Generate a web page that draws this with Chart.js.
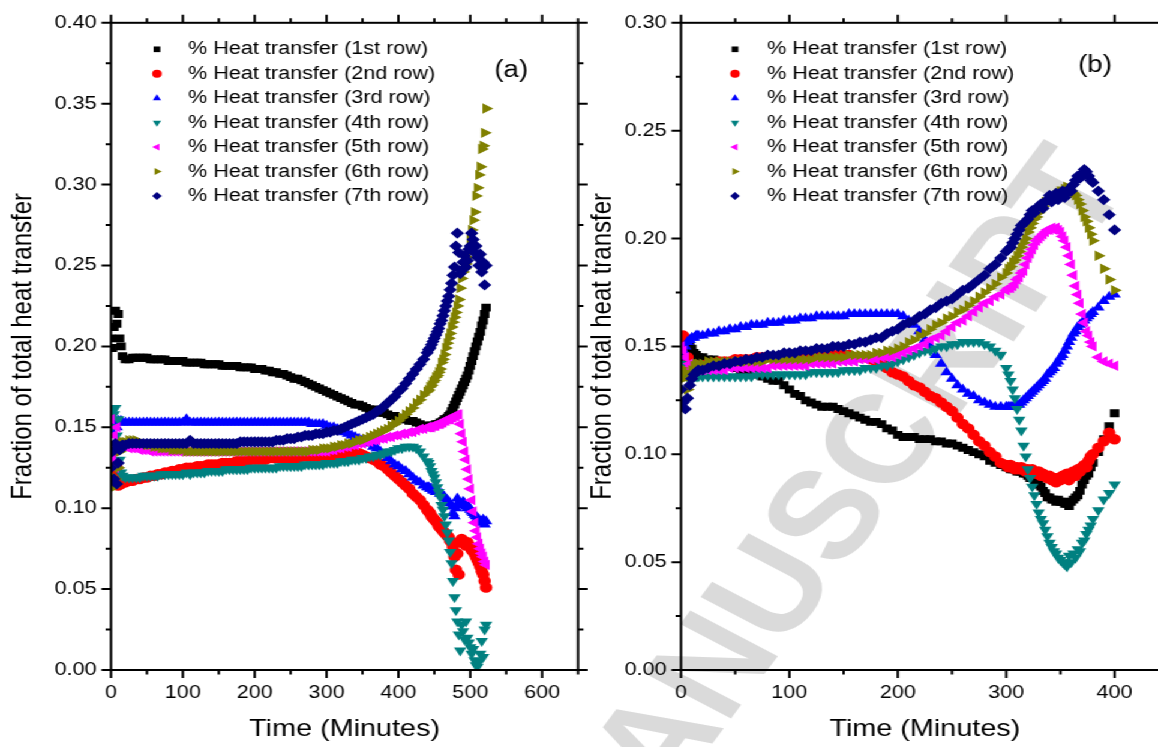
<!DOCTYPE html>
<html>
<head>
<meta charset="utf-8">
<script src="https://cdn.jsdelivr.net/npm/chart.js@4.4.1/dist/chart.umd.min.js"></script>
<style>
html, body { margin: 0; padding: 0; background: #fff; overflow: hidden; }
#page { position: absolute; left: 0; top: 0; width: 965px; height: 747px; transform: scaleX(1.2); transform-origin: 0 0; overflow: hidden; }
#page canvas { position: absolute; top: 0; }
#mark { left: 0; }
#chartA { left: 0; }
#chartB { left: 480px; }
</style>
</head>
<body>
<div id="page">
<canvas id="mark" width="965" height="747"></canvas>
<canvas id="chartA" width="490" height="747"></canvas>
<canvas id="chartB" width="500" height="747"></canvas>
</div>
<script>
// time axis (minutes); finer sampling where the curves move fast
const tA = [0, 2, 4, 6, 8, 10, 12, 14, 16,
  20, 25, 30, 35, 40, 45, 50, 55, 60, 65,
  70, 75, 80, 85, 90, 95, 100, 105, 110, 115,
  120, 125, 130, 135, 140, 145, 150, 155, 160, 165,
  170, 175, 180, 185, 190, 195, 200, 205, 210, 215,
  220, 225, 230, 235, 240, 245, 250, 255, 260, 265,
  270, 275, 280, 285, 290, 295, 300, 305, 310, 315,
  320, 325, 330, 335, 340, 345, 350, 355, 360, 365,
  370, 375, 380, 385, 390, 395, 400, 405, 410, 415,
  420, 425, 430, 435,
  440, 442, 444, 446, 448, 450, 452, 454, 456, 458,
  460, 462, 464, 466, 468, 470, 472, 474, 476, 478,
  480, 482, 484, 486, 488, 490, 492, 494, 496, 498,
  500, 502, 504, 506, 508, 510, 512, 514, 516, 518,
  520, 522];
const tB = [0, 2, 4, 6, 8, 10, 12, 14, 16,
  20, 25, 30, 35, 40, 45, 50, 55, 60, 65,
  70, 75, 80, 85, 90, 95, 100, 105, 110, 115,
  120, 125, 130, 135, 140, 145, 150, 155, 160, 165,
  170, 175, 180, 185, 190, 195, 200, 205, 210, 215,
  220, 225, 230, 235, 240, 245, 250, 255, 260, 265,
  270, 275, 280, 285, 290, 295,
  300, 302, 304, 306, 308, 310, 312, 314, 316, 318,
  320, 322, 324, 326, 328, 330, 332, 334, 336, 338,
  340, 342, 344, 346, 348, 350, 352, 354, 356, 358,
  360, 362, 364, 366, 368, 370, 372, 374, 376, 378,
  380, 385, 390, 395, 400];

const labels = ['% Heat transfer (1st row)', '% Heat transfer (2nd row)', '% Heat transfer (3rd row)',
  '% Heat transfer (4th row)', '% Heat transfer (5th row)', '% Heat transfer (6th row)', '% Heat transfer (7th row)'];

// panel (a)
const a1 = [0.205, 0.199, 0.212, 0.222, 0.214, 0.220, 0.205, 0.200, 0.194,
  0.192, 0.192, 0.193, 0.193, 0.193, 0.193, 0.193, 0.192, 0.192, 0.192,
  0.192, 0.192, 0.191, 0.191, 0.191, 0.191, 0.191, 0.190, 0.190, 0.190,
  0.190, 0.190, 0.189, 0.189, 0.189, 0.189, 0.189, 0.188, 0.188, 0.188,
  0.188, 0.188, 0.187, 0.187, 0.187, 0.187, 0.186, 0.186, 0.186, 0.185,
  0.185, 0.184, 0.184, 0.183, 0.183, 0.182, 0.181, 0.180, 0.180, 0.179,
  0.178, 0.177, 0.176, 0.175, 0.174, 0.173, 0.172, 0.171, 0.170, 0.169,
  0.168, 0.167, 0.166, 0.165, 0.164, 0.164, 0.163, 0.162, 0.161, 0.161,
  0.160, 0.159, 0.159, 0.158, 0.157, 0.157, 0.156, 0.155, 0.155, 0.154,
  0.154, 0.153, 0.152, 0.151,
  0.151, 0.151, 0.150, 0.151, 0.151, 0.151, 0.152, 0.152, 0.152, 0.153,
  0.153, 0.154, 0.155, 0.155, 0.156, 0.157, 0.158, 0.160, 0.162, 0.164,
  0.166, 0.168, 0.170, 0.172, 0.174, 0.176, 0.178, 0.180, 0.182, 0.185,
  0.188, 0.191, 0.194, 0.197, 0.200, 0.203, 0.206, 0.209, 0.213, 0.216,
  0.220, 0.224];
const a2 = [0.130, 0.122, 0.135, 0.118, 0.125, 0.114, 0.117, 0.115, 0.117,
  0.116, 0.117, 0.117, 0.118, 0.118, 0.119, 0.119, 0.120, 0.120, 0.121,
  0.121, 0.122, 0.122, 0.123, 0.123, 0.124, 0.124, 0.125, 0.125, 0.125,
  0.126, 0.126, 0.126, 0.127, 0.127, 0.127, 0.127, 0.128, 0.128, 0.128,
  0.128, 0.129, 0.129, 0.129, 0.129, 0.130, 0.130, 0.130, 0.130, 0.130,
  0.131, 0.131, 0.131, 0.131, 0.131, 0.131, 0.131, 0.131, 0.131, 0.132,
  0.132, 0.132, 0.132, 0.132, 0.132, 0.132, 0.132, 0.132, 0.133, 0.133,
  0.133, 0.133, 0.133, 0.134, 0.134, 0.134, 0.133, 0.132, 0.131, 0.130,
  0.129, 0.127, 0.126, 0.124, 0.122, 0.120, 0.118, 0.116, 0.114, 0.112,
  0.109, 0.107, 0.105, 0.102,
  0.099, 0.098, 0.097, 0.095, 0.094, 0.093, 0.092, 0.091, 0.089, 0.088,
  0.087, 0.086, 0.085, 0.084, 0.083, 0.082, 0.080, 0.079, 0.076, 0.070,
  0.062, 0.072, 0.059, 0.079, 0.081, 0.080, 0.078, 0.077, 0.079, 0.077,
  0.076, 0.074, 0.075, 0.072, 0.070, 0.068, 0.066, 0.064, 0.061, 0.059,
  0.055, 0.051];
const a3 = [0.148, 0.135, 0.152, 0.140, 0.150, 0.154, 0.153, 0.154, 0.153,
  0.153, 0.153, 0.153, 0.153, 0.153, 0.153, 0.153, 0.153, 0.153, 0.153,
  0.153, 0.153, 0.153, 0.153, 0.153, 0.153, 0.153, 0.155, 0.153, 0.153,
  0.153, 0.153, 0.153, 0.153, 0.153, 0.153, 0.153, 0.153, 0.153, 0.153,
  0.153, 0.153, 0.153, 0.153, 0.153, 0.153, 0.153, 0.153, 0.153, 0.153,
  0.153, 0.153, 0.153, 0.153, 0.153, 0.153, 0.153, 0.153, 0.153, 0.153,
  0.153, 0.153, 0.152, 0.152, 0.152, 0.152, 0.151, 0.150, 0.150, 0.149,
  0.148, 0.147, 0.146, 0.145, 0.144, 0.143, 0.142, 0.141, 0.140, 0.138,
  0.137, 0.135, 0.133, 0.131, 0.129, 0.127, 0.126, 0.124, 0.123, 0.121,
  0.119, 0.117, 0.116, 0.114,
  0.113, 0.113, 0.112, 0.112, 0.111, 0.111, 0.110, 0.110, 0.110, 0.109,
  0.109, 0.108, 0.107, 0.106, 0.105, 0.104, 0.103, 0.101, 0.097, 0.095,
  0.100, 0.106, 0.104, 0.103, 0.102, 0.104, 0.103, 0.101, 0.100, 0.101,
  0.099, 0.098, 0.097, 0.096, 0.095, 0.094, 0.093, 0.092, 0.091, 0.093,
  0.090, 0.092];
const a4 = [0.150, 0.160, 0.158, 0.162, 0.145, 0.155, 0.130, 0.122, 0.120,
  0.119, 0.119, 0.119, 0.119, 0.119, 0.120, 0.120, 0.120, 0.120, 0.120,
  0.121, 0.121, 0.121, 0.121, 0.121, 0.121, 0.121, 0.122, 0.121, 0.122,
  0.122, 0.122, 0.122, 0.123, 0.123, 0.123, 0.123, 0.123, 0.124, 0.124,
  0.124, 0.124, 0.124, 0.124, 0.124, 0.125, 0.125, 0.125, 0.125, 0.125,
  0.125, 0.125, 0.125, 0.126, 0.126, 0.126, 0.126, 0.126, 0.126, 0.126,
  0.127, 0.127, 0.127, 0.127, 0.127, 0.127, 0.128, 0.128, 0.128, 0.128,
  0.129, 0.129, 0.129, 0.130, 0.130, 0.130, 0.131, 0.131, 0.132, 0.132,
  0.133, 0.133, 0.134, 0.135, 0.135, 0.136, 0.137, 0.137, 0.138, 0.138,
  0.138, 0.137, 0.135, 0.132,
  0.129, 0.128, 0.126, 0.123, 0.121, 0.119, 0.116, 0.113, 0.110, 0.107,
  0.102, 0.099, 0.095, 0.090, 0.085, 0.080, 0.073, 0.066, 0.055, 0.045,
  0.037, 0.030, 0.022, 0.012, 0.028, 0.024, 0.019, 0.030, 0.020, 0.017,
  0.014, 0.010, 0.013, 0.006, 0.003, 0.002, 0.005, 0.010, 0.018, 0.008,
  0.025, 0.028];
const a5 = [0.155, 0.130, 0.145, 0.125, 0.150, 0.138, 0.140, 0.139, 0.138,
  0.138, 0.137, 0.137, 0.137, 0.136, 0.136, 0.136, 0.135, 0.135, 0.135,
  0.135, 0.135, 0.135, 0.135, 0.135, 0.135, 0.135, 0.135, 0.135, 0.135,
  0.135, 0.135, 0.135, 0.135, 0.135, 0.135, 0.135, 0.135, 0.135, 0.135,
  0.135, 0.135, 0.135, 0.135, 0.135, 0.135, 0.135, 0.135, 0.135, 0.135,
  0.135, 0.135, 0.135, 0.135, 0.135, 0.135, 0.135, 0.135, 0.135, 0.135,
  0.135, 0.135, 0.135, 0.135, 0.135, 0.135, 0.135, 0.136, 0.136, 0.137,
  0.137, 0.138, 0.138, 0.139, 0.139, 0.140, 0.140, 0.141, 0.141, 0.142,
  0.142, 0.143, 0.143, 0.144, 0.144, 0.145, 0.145, 0.146, 0.146, 0.147,
  0.147, 0.148, 0.149, 0.149,
  0.150, 0.150, 0.150, 0.150, 0.151, 0.151, 0.151, 0.152, 0.152, 0.152,
  0.153, 0.153, 0.154, 0.154, 0.155, 0.155, 0.155, 0.156, 0.156, 0.157,
  0.157, 0.158, 0.158, 0.152, 0.146, 0.141, 0.135, 0.130, 0.124, 0.118,
  0.112, 0.105, 0.098, 0.091, 0.086, 0.082, 0.078, 0.075, 0.072, 0.070,
  0.067, 0.065];
const a6 = [0.120, 0.115, 0.113, 0.118, 0.115, 0.125, 0.135, 0.140, 0.141,
  0.141, 0.142, 0.142, 0.142, 0.141, 0.140, 0.139, 0.139, 0.138, 0.138,
  0.137, 0.137, 0.137, 0.136, 0.136, 0.136, 0.136, 0.135, 0.135, 0.135,
  0.135, 0.135, 0.135, 0.135, 0.135, 0.135, 0.135, 0.135, 0.135, 0.135,
  0.135, 0.135, 0.135, 0.135, 0.135, 0.135, 0.135, 0.135, 0.135, 0.135,
  0.135, 0.135, 0.135, 0.135, 0.135, 0.135, 0.135, 0.135, 0.135, 0.135,
  0.135, 0.135, 0.136, 0.136, 0.136, 0.137, 0.137, 0.137, 0.138, 0.138,
  0.139, 0.139, 0.140, 0.140, 0.141, 0.142, 0.142, 0.143, 0.144, 0.145,
  0.146, 0.147, 0.148, 0.149, 0.151, 0.152, 0.154, 0.156, 0.158, 0.160,
  0.162, 0.165, 0.167, 0.170,
  0.172, 0.173, 0.175, 0.176, 0.178, 0.179, 0.181, 0.182, 0.184, 0.186,
  0.190, 0.192, 0.195, 0.199, 0.202, 0.205, 0.208, 0.212, 0.215, 0.218,
  0.221, 0.225, 0.229, 0.236, 0.242, 0.246, 0.248, 0.251, 0.255, 0.258,
  0.266, 0.272, 0.278, 0.283, 0.293, 0.298, 0.306, 0.311, 0.322, 0.324,
  0.332, 0.347];
const a7 = [0.125, 0.135, 0.118, 0.140, 0.115, 0.128, 0.136, 0.138, 0.139,
  0.139, 0.140, 0.140, 0.140, 0.140, 0.140, 0.140, 0.140, 0.140, 0.140,
  0.140, 0.140, 0.140, 0.140, 0.140, 0.140, 0.140, 0.140, 0.142, 0.140,
  0.140, 0.140, 0.140, 0.140, 0.140, 0.140, 0.140, 0.140, 0.140, 0.140,
  0.140, 0.140, 0.141, 0.141, 0.141, 0.141, 0.141, 0.141, 0.141, 0.141,
  0.141, 0.141, 0.142, 0.142, 0.142, 0.143, 0.143, 0.143, 0.144, 0.144,
  0.145, 0.145, 0.145, 0.146, 0.146, 0.146, 0.147, 0.147, 0.148, 0.148,
  0.149, 0.150, 0.151, 0.152, 0.153, 0.154, 0.155, 0.156, 0.157, 0.158,
  0.160, 0.161, 0.163, 0.165, 0.167, 0.169, 0.172, 0.174, 0.177, 0.180,
  0.183, 0.186, 0.189, 0.192,
  0.196, 0.198, 0.199, 0.201, 0.203, 0.205, 0.207, 0.209, 0.211, 0.214,
  0.216, 0.219, 0.222, 0.225, 0.228, 0.231, 0.235, 0.239, 0.244, 0.249,
  0.262, 0.270, 0.258, 0.245, 0.247, 0.252, 0.256, 0.249, 0.253, 0.260,
  0.262, 0.270, 0.266, 0.258, 0.262, 0.255, 0.250, 0.257, 0.246, 0.252,
  0.238, 0.250];

// panel (b)
const b1 = [0.145, 0.150, 0.148, 0.152, 0.150, 0.149, 0.147, 0.146, 0.145,
  0.145, 0.144, 0.144, 0.143, 0.142, 0.141, 0.140, 0.139, 0.139, 0.138,
  0.137, 0.136, 0.135, 0.134, 0.134, 0.132, 0.130, 0.128, 0.127, 0.125,
  0.124, 0.123, 0.122, 0.122, 0.122, 0.121, 0.120, 0.119, 0.118, 0.117,
  0.116, 0.115, 0.115, 0.114, 0.112, 0.111, 0.109, 0.108, 0.108, 0.108,
  0.107, 0.107, 0.107, 0.106, 0.106, 0.105, 0.105, 0.104, 0.103, 0.102,
  0.101, 0.100, 0.099, 0.097, 0.096, 0.095,
  0.094, 0.094, 0.093, 0.093, 0.093, 0.092, 0.092, 0.092, 0.091, 0.091,
  0.090, 0.089, 0.089, 0.088, 0.087, 0.086, 0.085, 0.083, 0.082, 0.080,
  0.080, 0.079, 0.079, 0.078, 0.079, 0.078, 0.078, 0.077, 0.077, 0.076,
  0.078, 0.079, 0.080, 0.081, 0.083, 0.086, 0.088, 0.090, 0.091, 0.094,
  0.096, 0.101, 0.107, 0.113, 0.119];
const b2 = [0.150, 0.155, 0.153, 0.145, 0.142, 0.141, 0.140, 0.140, 0.141,
  0.141, 0.142, 0.142, 0.143, 0.143, 0.143, 0.144, 0.144, 0.144, 0.144,
  0.145, 0.145, 0.145, 0.145, 0.145, 0.145, 0.146, 0.146, 0.146, 0.146,
  0.146, 0.146, 0.146, 0.146, 0.146, 0.146, 0.146, 0.146, 0.145, 0.145,
  0.145, 0.144, 0.143, 0.142, 0.140, 0.138, 0.137, 0.136, 0.134, 0.132,
  0.131, 0.129, 0.127, 0.126, 0.124, 0.122, 0.120, 0.117, 0.114, 0.112,
  0.109, 0.106, 0.104, 0.101, 0.099, 0.096,
  0.095, 0.094, 0.095, 0.094, 0.093, 0.094, 0.093, 0.094, 0.093, 0.092,
  0.093, 0.092, 0.093, 0.092, 0.091, 0.092, 0.090, 0.091, 0.090, 0.089,
  0.090, 0.088, 0.089, 0.087, 0.089, 0.088, 0.090, 0.089, 0.091, 0.088,
  0.090, 0.092, 0.090, 0.093, 0.092, 0.094, 0.095, 0.094, 0.097, 0.099,
  0.100, 0.103, 0.106, 0.110, 0.107];
const b3 = [0.145, 0.148, 0.150, 0.152, 0.153, 0.154, 0.154, 0.155, 0.155,
  0.155, 0.156, 0.156, 0.157, 0.157, 0.158, 0.158, 0.159, 0.159, 0.160,
  0.160, 0.160, 0.161, 0.161, 0.161, 0.162, 0.162, 0.162, 0.163, 0.163,
  0.163, 0.164, 0.164, 0.164, 0.164, 0.164, 0.164, 0.165, 0.165, 0.165,
  0.165, 0.165, 0.165, 0.165, 0.165, 0.165, 0.165, 0.164, 0.162, 0.160,
  0.157, 0.153, 0.150, 0.146, 0.142, 0.138, 0.135, 0.132, 0.130, 0.128,
  0.127, 0.125, 0.124, 0.123, 0.122, 0.122,
  0.122, 0.122, 0.122, 0.122, 0.122, 0.123, 0.123, 0.124, 0.125, 0.126,
  0.127, 0.128, 0.129, 0.130, 0.131, 0.132, 0.133, 0.134, 0.135, 0.137,
  0.138, 0.139, 0.140, 0.142, 0.143, 0.145, 0.146, 0.148, 0.150, 0.152,
  0.154, 0.156, 0.157, 0.159, 0.160, 0.161, 0.162, 0.163, 0.164, 0.165,
  0.166, 0.168, 0.171, 0.173, 0.174];
const b4 = [0.142, 0.138, 0.140, 0.136, 0.137, 0.136, 0.136, 0.136, 0.136,
  0.136, 0.136, 0.136, 0.136, 0.136, 0.136, 0.136, 0.136, 0.136, 0.136,
  0.137, 0.137, 0.137, 0.137, 0.137, 0.137, 0.137, 0.137, 0.137, 0.137,
  0.138, 0.138, 0.138, 0.138, 0.138, 0.138, 0.139, 0.139, 0.139, 0.139,
  0.140, 0.140, 0.140, 0.141, 0.141, 0.142, 0.143, 0.144, 0.145, 0.146,
  0.147, 0.148, 0.148, 0.149, 0.150, 0.150, 0.151, 0.151, 0.152, 0.152,
  0.152, 0.152, 0.151, 0.150, 0.148, 0.146,
  0.140, 0.137, 0.134, 0.130, 0.126, 0.121, 0.116, 0.111, 0.104, 0.099,
  0.093, 0.089, 0.085, 0.081, 0.077, 0.073, 0.070, 0.068, 0.065, 0.062,
  0.059, 0.057, 0.055, 0.054, 0.052, 0.051, 0.050, 0.049, 0.048, 0.053,
  0.050, 0.054, 0.052, 0.056, 0.055, 0.059, 0.060, 0.063, 0.065, 0.067,
  0.070, 0.074, 0.079, 0.082, 0.086];
const b5 = [0.150, 0.148, 0.145, 0.140, 0.142, 0.139, 0.139, 0.139, 0.139,
  0.139, 0.139, 0.139, 0.139, 0.139, 0.140, 0.140, 0.140, 0.140, 0.140,
  0.140, 0.140, 0.140, 0.141, 0.141, 0.141, 0.141, 0.141, 0.141, 0.141,
  0.142, 0.142, 0.142, 0.142, 0.142, 0.143, 0.143, 0.143, 0.143, 0.144,
  0.144, 0.144, 0.144, 0.145, 0.145, 0.145, 0.146, 0.147, 0.148, 0.149,
  0.150, 0.151, 0.153, 0.154, 0.155, 0.157, 0.159, 0.161, 0.162, 0.164,
  0.166, 0.168, 0.170, 0.171, 0.173, 0.174,
  0.176, 0.177, 0.177, 0.178, 0.179, 0.181, 0.182, 0.184, 0.185, 0.188,
  0.191, 0.193, 0.195, 0.197, 0.199, 0.200, 0.201, 0.202, 0.203, 0.204,
  0.204, 0.205, 0.204, 0.205, 0.204, 0.203, 0.201, 0.199, 0.196, 0.192,
  0.188, 0.183, 0.178, 0.174, 0.170, 0.165, 0.161, 0.157, 0.155, 0.152,
  0.150, 0.145, 0.143, 0.142, 0.141];
const b6 = [0.140, 0.135, 0.138, 0.130, 0.136, 0.139, 0.141, 0.142, 0.142,
  0.142, 0.143, 0.143, 0.143, 0.143, 0.143, 0.143, 0.143, 0.143, 0.143,
  0.143, 0.143, 0.144, 0.144, 0.144, 0.144, 0.144, 0.144, 0.144, 0.144,
  0.144, 0.145, 0.145, 0.145, 0.145, 0.145, 0.145, 0.146, 0.146, 0.146,
  0.146, 0.146, 0.147, 0.147, 0.148, 0.148, 0.149, 0.150, 0.152, 0.153,
  0.155, 0.156, 0.158, 0.160, 0.161, 0.163, 0.164, 0.166, 0.167, 0.169,
  0.171, 0.173, 0.175, 0.177, 0.179, 0.182,
  0.184, 0.186, 0.187, 0.189, 0.190, 0.192, 0.194, 0.196, 0.198, 0.200,
  0.203, 0.205, 0.207, 0.209, 0.210, 0.212, 0.214, 0.215, 0.217, 0.217,
  0.218, 0.219, 0.219, 0.220, 0.221, 0.222, 0.222, 0.223, 0.224, 0.223,
  0.222, 0.221, 0.220, 0.218, 0.216, 0.213, 0.210, 0.208, 0.205, 0.202,
  0.199, 0.192, 0.186, 0.181, 0.176];
const b7 = [0.130, 0.124, 0.121, 0.126, 0.132, 0.135, 0.137, 0.138, 0.139,
  0.139, 0.140, 0.141, 0.141, 0.142, 0.142, 0.143, 0.143, 0.144, 0.144,
  0.145, 0.145, 0.146, 0.146, 0.146, 0.147, 0.147, 0.147, 0.148, 0.148,
  0.148, 0.149, 0.149, 0.149, 0.150, 0.150, 0.150, 0.151, 0.151, 0.152,
  0.152, 0.153, 0.154, 0.154, 0.156, 0.157, 0.158, 0.160, 0.161, 0.162,
  0.164, 0.165, 0.167, 0.168, 0.170, 0.171, 0.172, 0.174, 0.176, 0.177,
  0.179, 0.181, 0.183, 0.186, 0.188, 0.191,
  0.194, 0.195, 0.196, 0.198, 0.200, 0.202, 0.204, 0.206, 0.207, 0.208,
  0.209, 0.211, 0.213, 0.212, 0.214, 0.215, 0.216, 0.214, 0.217, 0.218,
  0.220, 0.217, 0.219, 0.221, 0.218, 0.220, 0.222, 0.219, 0.221, 0.223,
  0.222, 0.225, 0.227, 0.229, 0.228, 0.230, 0.232, 0.231, 0.229, 0.227,
  0.226, 0.222, 0.218, 0.211, 0.204];

const colors = ['#000000', '#ff0000', '#0000ff', '#008080', '#ff00ff', '#808000', '#000080'];
const styles = ['rect', 'circle', 'triangle', 'triangle', 'triangle', 'triangle', 'rectRot'];
const rotations = [0, 0, 0, 180, 270, 90, 0];

const FONT = '"Liberation Sans", Arial, Helvetica, sans-serif';
Chart.defaults.font.family = FONT;
Chart.defaults.color = '#000';

// frame, mirrored axes, major/minor ticks and the time labels
const framePlugin = {
  id: 'frame',
  afterDatasetsDraw(chart) {
    const { ctx, chartArea: a, scales: { x, y } } = chart;
    ctx.save();
    ctx.strokeStyle = '#000';
    ctx.lineWidth = 2;
    ctx.beginPath();
    for (let v = 0; v <= x.max; v += 50) {
      const px = x.getPixelForValue(v);
      const len = v % 100 === 0 ? 8 : 4.5;
      ctx.moveTo(px, a.bottom); ctx.lineTo(px, a.bottom + len);
      ctx.moveTo(px, a.top); ctx.lineTo(px, a.top - len);
    }
    const nY = Math.round(y.max / 0.025);
    for (let k = 0; k <= nY; k++) {
      const py = y.getPixelForValue(k * 0.025);
      const len = k % 2 === 0 ? 8 : 4.5;
      ctx.moveTo(a.left, py); ctx.lineTo(a.left - len, py);
      ctx.moveTo(a.right, py); ctx.lineTo(a.right + len, py);
    }
    ctx.stroke();
    ctx.strokeRect(a.left, a.top, a.right - a.left, a.bottom - a.top);

    ctx.fillStyle = '#000';
    ctx.font = '18px ' + FONT;
    ctx.textAlign = 'center';
    ctx.textBaseline = 'middle';
    for (let v = 0; v <= x.max; v += 100) {
      ctx.fillText(String(v), x.getPixelForValue(v), a.bottom + 23);
    }
    ctx.restore();
  }
};

// legend inside the plot + panel tag
const keyPlugin = {
  id: 'key',
  afterDraw(chart, args, o) {
    const { ctx, chartArea: a } = chart;
    ctx.save();
    ctx.font = '18px ' + FONT;
    ctx.textBaseline = 'middle';
    chart.data.datasets.forEach((ds, i) => {
      const y = o.rowTop + i * o.rowGap;
      ctx.fillStyle = ds.backgroundColor;
      Chart.helpers.drawPoint(ctx, { pointStyle: ds.pointStyle, rotation: ds.pointRotation, radius: 4, borderWidth: 0 }, a.left + o.markX, y);
      ctx.fillStyle = '#000';
      ctx.fillText(ds.label, a.left + o.textX, y);
    });
    ctx.font = '23px ' + FONT;
    ctx.textAlign = 'center';
    ctx.fillText(o.tag, o.tagX, o.tagY);
    ctx.restore();
  }
};

function makeChart(id, times, series, xMax, yMax, yWidth, pad, key) {
  const datasets = series.map((vals, i) => ({
    label: labels[i],
    data: times.map((t, j) => ({ x: t, y: vals[j] })),
    backgroundColor: colors[i],
    borderColor: colors[i],
    borderWidth: 1.5,
    pointStyle: styles[i],
    pointRotation: rotations[i],
    pointRadius: 4.5,
    pointHoverRadius: 4.5,
    showLine: false,
    order: 7 - i
  }));
  return new Chart(document.getElementById(id), {
    type: 'scatter',
    data: { datasets: datasets },
    plugins: [framePlugin, keyPlugin],
    options: {
      responsive: false,
      animation: false,
      events: [],
      layout: { padding: pad },
      plugins: { legend: { display: false }, tooltip: { enabled: false }, key: key },
      scales: {
        x: {
          type: 'linear', min: 0, max: xMax,
          grid: { display: false, drawTicks: false },
          border: { display: false },
          ticks: { display: false, stepSize: 100 },
          title: { display: true, text: 'Time (Minutes)', font: { size: 24 }, padding: { top: 4, bottom: 3 } },
          afterFit: (s) => { s.height = 77; }
        },
        y: {
          min: 0, max: yMax,
          grid: { display: false, drawTicks: false },
          border: { display: false },
          ticks: {
            stepSize: 0.05, autoSkip: false, padding: 12,
            font: { size: 18 },
            callback: (v) => v.toFixed(2)
          },
          title: { display: true, text: 'Fraction of total heat transfer', font: { size: 24 }, padding: { top: 3, bottom: 4 } },
          afterFit: (s) => { s.width = yWidth; }
        }
      }
    }
  });
}

makeChart('chartA', tA, [a1, a2, a3, a4, a5, a6, a7], 650, 0.40, 90.5,
  { left: 2, top: 22, right: 8.3, bottom: 0 },
  { rowTop: 49.3, rowGap: 24.45, markX: 38.3, textX: 64.2, tag: '(a)', tagX: 426, tagY: 71 });
makeChart('chartB', tB, [b1, b2, b3, b4, b5, b6, b7], 450, 0.30, 82.5,
  { left: 5, top: 22, right: 3.75, bottom: 0 },
  { rowTop: 49.3, rowGap: 24.45, markX: 45, textX: 71.7, tag: '(b)', tagX: 432.5, tagY: 66 });

// light grey "accepted manuscript" stamp behind the plots
const wm = document.getElementById('mark').getContext('2d');
wm.save();
wm.fillStyle = '#dadada';
wm.font = 'bold 125px ' + FONT;
wm.translate(557, 802);
wm.rotate(-58 * Math.PI / 180);
const lead = wm.measureText('ACCEPTED M').width;
wm.fillText('ACCEPTED MANUSCRIPT', -lead, 0);
wm.restore();
</script>
</body>
</html>
